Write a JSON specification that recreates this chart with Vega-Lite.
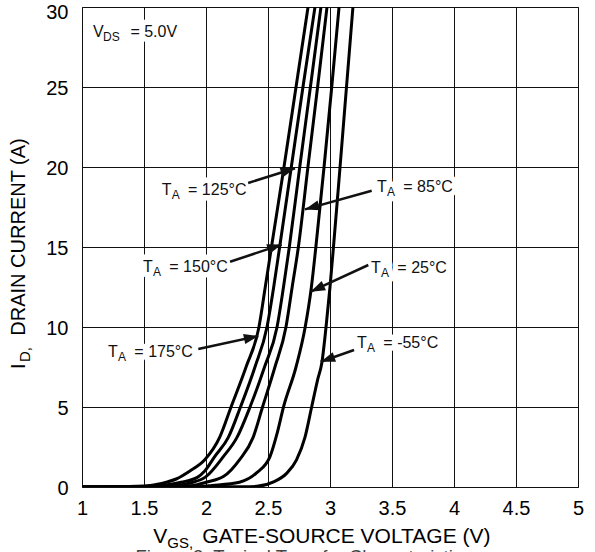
{
  "$schema": "https://vega.github.io/schema/vega-lite/v6.json",
  "width": 496,
  "height": 480,
  "autosize": "none",
  "padding": {"left": 82, "top": 7, "right": 17, "bottom": 65},
  "config": {"view": {"stroke": "#333", "strokeWidth": 1}, "font": "Liberation Sans"},
  "datasets": {
    "curves": [
      {"T": "175", "x": 1.0, "y": 0}, {"T": "175", "x": 1.3, "y": 0.02}, {"T": "175", "x": 1.55, "y": 0.1}, {"T": "175", "x": 1.68, "y": 0.3}, {"T": "175", "x": 1.76, "y": 0.5}, {"T": "175", "x": 1.87, "y": 1.0}, {"T": "175", "x": 1.99, "y": 1.7}, {"T": "175", "x": 2.11, "y": 3.1}, {"T": "175", "x": 2.202, "y": 5}, {"T": "175", "x": 2.323, "y": 7.5}, {"T": "175", "x": 2.427, "y": 10}, {"T": "175", "x": 2.478, "y": 12.5}, {"T": "175", "x": 2.528, "y": 15}, {"T": "175", "x": 2.629, "y": 20}, {"T": "175", "x": 2.726, "y": 25}, {"T": "175", "x": 2.823, "y": 30},
      {"T": "150", "x": 1.0, "y": 0}, {"T": "150", "x": 1.5, "y": 0.03}, {"T": "150", "x": 1.65, "y": 0.1}, {"T": "150", "x": 1.8, "y": 0.3}, {"T": "150", "x": 1.93, "y": 0.6}, {"T": "150", "x": 1.99, "y": 1.0}, {"T": "150", "x": 2.07, "y": 1.9}, {"T": "150", "x": 2.18, "y": 3.1}, {"T": "150", "x": 2.278, "y": 5}, {"T": "150", "x": 2.395, "y": 7.5}, {"T": "150", "x": 2.492, "y": 10}, {"T": "150", "x": 2.546, "y": 12.5}, {"T": "150", "x": 2.594, "y": 15}, {"T": "150", "x": 2.688, "y": 20}, {"T": "150", "x": 2.782, "y": 25}, {"T": "150", "x": 2.879, "y": 30},
      {"T": "125", "x": 1.0, "y": 0}, {"T": "125", "x": 1.5, "y": 0.02}, {"T": "125", "x": 1.7, "y": 0.06}, {"T": "125", "x": 1.87, "y": 0.25}, {"T": "125", "x": 2.0, "y": 0.65}, {"T": "125", "x": 2.14, "y": 1.9}, {"T": "125", "x": 2.25, "y": 3.1}, {"T": "125", "x": 2.355, "y": 5}, {"T": "125", "x": 2.472, "y": 7.5}, {"T": "125", "x": 2.573, "y": 10}, {"T": "125", "x": 2.625, "y": 12.5}, {"T": "125", "x": 2.672, "y": 15}, {"T": "125", "x": 2.756, "y": 20}, {"T": "125", "x": 2.842, "y": 25}, {"T": "125", "x": 2.927, "y": 30},
      {"T": "85", "x": 1.0, "y": 0}, {"T": "85", "x": 1.6, "y": 0.02}, {"T": "85", "x": 1.9, "y": 0.1}, {"T": "85", "x": 2.0, "y": 0.3}, {"T": "85", "x": 2.14, "y": 0.65}, {"T": "85", "x": 2.27, "y": 1.7}, {"T": "85", "x": 2.38, "y": 3.1}, {"T": "85", "x": 2.456, "y": 5}, {"T": "85", "x": 2.556, "y": 7.5}, {"T": "85", "x": 2.645, "y": 10}, {"T": "85", "x": 2.695, "y": 12.5}, {"T": "85", "x": 2.745, "y": 15}, {"T": "85", "x": 2.822, "y": 20}, {"T": "85", "x": 2.9, "y": 25}, {"T": "85", "x": 2.976, "y": 30},
      {"T": "25", "x": 1.0, "y": 0}, {"T": "25", "x": 1.9, "y": 0.02}, {"T": "25", "x": 2.05, "y": 0.1}, {"T": "25", "x": 2.27, "y": 0.3}, {"T": "25", "x": 2.41, "y": 0.9}, {"T": "25", "x": 2.516, "y": 1.9}, {"T": "25", "x": 2.575, "y": 3.4}, {"T": "25", "x": 2.625, "y": 5}, {"T": "25", "x": 2.726, "y": 7.5}, {"T": "25", "x": 2.8, "y": 10}, {"T": "25", "x": 2.85, "y": 12.5}, {"T": "25", "x": 2.886, "y": 15}, {"T": "25", "x": 2.952, "y": 20}, {"T": "25", "x": 3.014, "y": 25}, {"T": "25", "x": 3.073, "y": 30},
      {"T": "-55", "x": 1.0, "y": 0}, {"T": "-55", "x": 2.3, "y": 0.01}, {"T": "-55", "x": 2.41, "y": 0.04}, {"T": "-55", "x": 2.54, "y": 0.3}, {"T": "-55", "x": 2.65, "y": 0.85}, {"T": "-55", "x": 2.73, "y": 1.7}, {"T": "-55", "x": 2.798, "y": 3.1}, {"T": "-55", "x": 2.852, "y": 5}, {"T": "-55", "x": 2.9, "y": 6.7}, {"T": "-55", "x": 2.935, "y": 7.8}, {"T": "-55", "x": 2.968, "y": 10}, {"T": "-55", "x": 3.0, "y": 12.5}, {"T": "-55", "x": 3.028, "y": 15}, {"T": "-55", "x": 3.081, "y": 20}, {"T": "-55", "x": 3.133, "y": 25}, {"T": "-55", "x": 3.185, "y": 30}
    ],
    "arrows": [
      {"T": "125", "x": 2.34, "y": 19.0, "x2": 2.718, "y2": 19.92},
      {"T": "150", "x": 2.194, "y": 14.08, "x2": 2.61, "y2": 15.15},
      {"T": "175", "x": 1.938, "y": 8.62, "x2": 2.422, "y2": 9.44},
      {"T": "85", "x": 3.336, "y": 18.52, "x2": 2.798, "y2": 17.35},
      {"T": "25", "x": 3.309, "y": 13.875, "x2": 2.844, "y2": 12.21},
      {"T": "-55", "x": 3.194, "y": 8.56, "x2": 2.925, "y2": 7.83}
    ],
    "labels": [
      {"x": 1.643, "y": 18.58, "main": "T\u00a0\u00a0\u00a0\u2009= 125°C", "sub": "A"},
      {"x": 1.492, "y": 13.78, "main": "T\u00a0\u00a0\u00a0\u2009= 150°C", "sub": "A"},
      {"x": 1.21, "y": 8.46, "main": "T\u00a0\u00a0\u00a0\u2009= 175°C", "sub": "A"},
      {"x": 3.379, "y": 18.77, "main": "T\u00a0\u00a0\u00a0\u2009= 85°C", "sub": "A"},
      {"x": 3.331, "y": 13.67, "main": "T\u00a0\u00a0\u00a0\u2009= 25°C", "sub": "A"},
      {"x": 3.218, "y": 8.98, "main": "T\u00a0\u00a0\u00a0\u2009= -55°C", "sub": "A"},
      {"x": 1.089, "y": 28.45, "main": "V\u00a0\u00a0\u00a0\u00a0\u00a0\u00a0= 5.0V", "sub": "DS"}
    ],
    "xtitle": [{"x": 1.575, "y": -3.104, "main": "V\u00a0\u00a0\u00a0\u00a0\u00a0\u00a0GATE-SOURCE VOLTAGE (V)", "sub": "GS,"}],
    "ytitle": [{"x": 0.492, "y": 7.375, "main": "I\u00a0\u00a0\u00a0\u00a0\u00a0DRAIN CURRENT (A)", "sub": "D,"}],
    "caption": [{"x": 1.431, "y": -4.36, "main": "Figure 3. Typical Transfer Characteristics"}]
  },
  "layer": [
    {
      "data": {"name": "curves"},
      "mark": {"type": "line", "color": "black", "strokeWidth": 3, "interpolate": "monotone", "clip": true},
      "encoding": {
        "x": {"field": "x", "type": "quantitative", "scale": {"domain": [1, 5], "nice": false, "zero": false},
          "axis": {"title": null, "values": [1, 1.5, 2, 2.5, 3, 3.5, 4, 4.5, 5], "format": "~g", "grid": true, "gridColor": "#111", "gridWidth": 1, "gridOpacity": 1, "domain": false, "ticks": false, "tickSize": 0, "labelFontSize": 20, "labelColor": "#000", "labelPadding": 11, "labelFlush": false, "labelOverlap": false, "labelBound": false, "labelFont": "Liberation Sans"}},
        "y": {"field": "y", "type": "quantitative", "scale": {"domain": [0, 30], "nice": false, "zero": false},
          "axis": {"title": null, "values": [0, 5, 10, 15, 20, 25, 30], "format": "d", "grid": true, "gridColor": "#111", "gridWidth": 1, "gridOpacity": 1, "domain": false, "ticks": false, "tickSize": 0, "labelFontSize": 20, "labelColor": "#000", "labelPadding": 14, "labelFlush": false, "labelOverlap": false, "labelBound": false, "labelOffset": {"condition": {"test": "datum.value == 30", "value": 5.5}, "value": 1}, "labelFont": "Liberation Sans"}},
        "detail": {"field": "T", "type": "nominal"}
      }
    },
    {
      "data": {"name": "labels"},
      "mark": {"type": "text", "align": "left", "baseline": "middle", "fontSize": 16, "color": "white", "stroke": "white", "strokeWidth": 11, "strokeJoin": "round"},
      "encoding": {"x": {"field": "x", "type": "quantitative"}, "y": {"field": "y", "type": "quantitative"}, "text": {"field": "main"}}
    },
    {
      "data": {"name": "labels"},
      "mark": {"type": "text", "align": "left", "baseline": "middle", "fontSize": 12, "dx": 10, "dy": 5, "color": "white", "stroke": "white", "strokeWidth": 11, "strokeJoin": "round"},
      "encoding": {"x": {"field": "x", "type": "quantitative"}, "y": {"field": "y", "type": "quantitative"}, "text": {"field": "sub"}}
    },
    {
      "data": {"name": "labels"},
      "mark": {"type": "text", "align": "left", "baseline": "middle", "fontSize": 16, "color": "#111"},
      "encoding": {"x": {"field": "x", "type": "quantitative"}, "y": {"field": "y", "type": "quantitative"}, "text": {"field": "main"}}
    },
    {
      "data": {"name": "labels"},
      "mark": {"type": "text", "align": "left", "baseline": "middle", "fontSize": 12, "dx": 10, "dy": 5, "color": "#111"},
      "encoding": {"x": {"field": "x", "type": "quantitative"}, "y": {"field": "y", "type": "quantitative"}, "text": {"field": "sub"}}
    },
    {
      "data": {"name": "arrows"},
      "mark": {"type": "rule", "color": "#111", "strokeWidth": 2.5},
      "encoding": {"x": {"field": "x", "type": "quantitative"}, "y": {"field": "y", "type": "quantitative"}, "x2": {"field": "x2"}, "y2": {"field": "y2"}}
    },
    {
      "data": {"name": "arrows"},
      "transform": [{"calculate": "atan2((datum.x2 - datum.x) * 124, (datum.y2 - datum.y) * 16) * 180 / PI", "as": "ang"}],
      "mark": {"type": "point", "shape": "M0,0L0.7,2L-0.7,2Z", "filled": true, "color": "#111", "opacity": 1, "size": 210},
      "encoding": {"x": {"field": "x2", "type": "quantitative"}, "y": {"field": "y2", "type": "quantitative"}, "angle": {"field": "ang", "type": "quantitative", "scale": null}}
    },
    {
      "data": {"name": "xtitle"},
      "mark": {"type": "text", "align": "left", "baseline": "middle", "fontSize": 21, "color": "#000"},
      "encoding": {"x": {"field": "x", "type": "quantitative"}, "y": {"field": "y", "type": "quantitative"}, "text": {"field": "main"}}
    },
    {
      "data": {"name": "xtitle"},
      "mark": {"type": "text", "align": "left", "baseline": "middle", "fontSize": 15, "dx": 14, "dy": 6, "color": "#000"},
      "encoding": {"x": {"field": "x", "type": "quantitative"}, "y": {"field": "y", "type": "quantitative"}, "text": {"field": "sub"}}
    },
    {
      "data": {"name": "ytitle"},
      "mark": {"type": "text", "align": "left", "baseline": "middle", "angle": 270, "fontSize": 20, "color": "#000"},
      "encoding": {"x": {"field": "x", "type": "quantitative"}, "y": {"field": "y", "type": "quantitative"}, "text": {"field": "main"}}
    },
    {
      "data": {"name": "ytitle"},
      "mark": {"type": "text", "align": "left", "baseline": "middle", "angle": 270, "fontSize": 15, "dx": 7, "dy": 6, "color": "#000"},
      "encoding": {"x": {"field": "x", "type": "quantitative"}, "y": {"field": "y", "type": "quantitative"}, "text": {"field": "sub"}}
    },
    {
      "data": {"name": "caption"},
      "mark": {"type": "text", "align": "left", "baseline": "middle", "fontSize": 18.5, "color": "#444"},
      "encoding": {"x": {"field": "x", "type": "quantitative"}, "y": {"field": "y", "type": "quantitative"}, "text": {"field": "main"}}
    }
  ]
}
